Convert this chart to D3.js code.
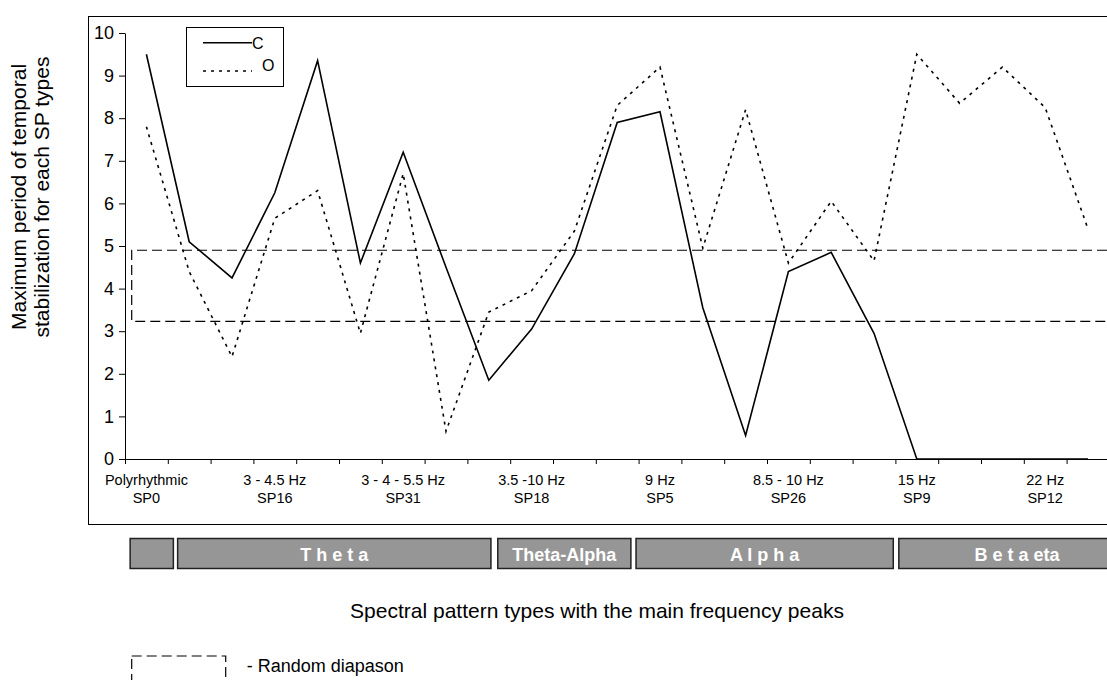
<!DOCTYPE html>
<html>
<head>
<meta charset="utf-8">
<script src="https://cdn.jsdelivr.net/npm/d3@7"></script>
<style>
  body { margin: 0; background: #fff; }
  svg { font-family: "Liberation Sans", Arial, sans-serif; }
</style>
</head>
<body>
<svg id="chart" width="1107" height="680"></svg>
<script>
"use strict";

// category labels (only every third category is labelled on the axis)
const freqLabels = ["Polyrhythmic", "", "", "3 - 4.5 Hz", "", "", "3 - 4 - 5.5 Hz", "", "",
  "3.5 -10 Hz", "", "", "9 Hz", "", "", "8.5 - 10 Hz", "", "", "15 Hz", "", "", "22 Hz", ""];
const spLabels = ["SP0", "", "", "SP16", "", "", "SP31", "", "", "SP18", "", "", "SP5", "", "",
  "SP26", "", "", "SP9", "", "", "SP12", ""];

// series values
const valuesC = [9.5, 5.1, 4.25, 6.25, 9.35, 4.6, 7.2, 4.5, 1.85, 3.05, 4.82, 7.9, 8.15, 3.55,
  0.55, 4.4, 4.85, 2.95, 0, 0, 0, 0, 0];
const valuesO = [7.8, 4.4, 2.4, 5.65, 6.3, 2.95, 6.7, 0.65, 3.45, 3.95, 5.35, 8.3, 9.2, 4.95,
  8.2, 4.6, 6.05, 4.65, 9.5, 8.35, 9.2, 8.25, 5.4];

// random diapason limits
const randomLow = 3.23;
const randomHigh = 4.9;

const yTicks = [0, 1, 2, 3, 4, 5, 6, 7, 8, 9, 10];

// rhythm bands, in category units
const bandNames = ["", "T h e t a", "Theta-Alpha", "A l p h a", "B e t a eta"];
const bandStart = [0.12, 1.23, 8.71, 11.94, 18.08];
const bandEnd = [1.13, 8.55, 11.82, 17.95, 23.6];

const svg = d3.select("#chart");

const plot = { left: 125, right: 1109.4, top: 33, bottom: 459 };

const x = d3.scaleBand()
  .domain(d3.range(valuesC.length))
  .range([plot.left, plot.right])
  .padding(0);

const xu = d3.scaleLinear()
  .domain([0, valuesC.length])
  .range([plot.left, plot.right]);

const y = d3.scaleLinear()
  .domain([0, 10])
  .range([plot.bottom, plot.top]);

const cx = i => x(i) + x.bandwidth() / 2;

// outer frame
svg.append("rect")
  .attr("x", 88.5).attr("y", 16.5)
  .attr("width", 1060).attr("height", 508)
  .attr("fill", "none").attr("stroke", "#000").attr("stroke-width", 1);

// y axis
const yAxis = svg.append("g")
  .attr("transform", `translate(${plot.left},0)`)
  .call(d3.axisLeft(y).tickValues(yTicks).tickSize(6).tickSizeOuter(0).tickPadding(5));
yAxis.select(".domain").attr("stroke", "#000");
yAxis.selectAll("text").attr("font-size", 18).attr("fill", "#000")
  .attr("font-family", "Liberation Sans, Arial, sans-serif");

// x axis line and ticks at category boundaries
const xAxis = svg.append("g")
  .attr("transform", `translate(0,${plot.bottom})`)
  .call(d3.axisBottom(xu).tickValues(d3.range(valuesC.length + 1)).tickSize(5)
    .tickSizeOuter(0).tickFormat(""));
xAxis.select(".domain").attr("stroke", "#000");

// two-line category labels
const lab = svg.append("g")
  .attr("font-size", 14.5)
  .attr("text-anchor", "middle")
  .attr("fill", "#000");
freqLabels.forEach((d, i) => {
  if (!d) return;
  lab.append("text").attr("x", cx(i)).attr("y", 485).text(d);
  lab.append("text").attr("x", cx(i)).attr("y", 503).text(spLabels[i]);
});

// random diapason box
const dash = "10,5";
svg.append("path")
  .attr("d", `M1107,${y(randomHigh)}H131.7V${y(randomLow)}H1107`)
  .attr("fill", "none").attr("stroke", "#000").attr("stroke-width", 1.2)
  .attr("stroke-dasharray", dash);

// series lines
const line = d3.line()
  .x((d, i) => cx(i))
  .y(d => y(d));

svg.append("path")
  .datum(valuesO)
  .attr("d", line)
  .attr("fill", "none").attr("stroke", "#000").attr("stroke-width", 1.6)
  .attr("stroke-dasharray", "3,5");

svg.append("path")
  .datum(valuesC)
  .attr("d", line)
  .attr("fill", "none").attr("stroke", "#000").attr("stroke-width", 1.6);

// legend
const leg = svg.append("g");
leg.append("rect")
  .attr("x", 186.5).attr("y", 27.5).attr("width", 97).attr("height", 59)
  .attr("fill", "#fff").attr("stroke", "#000").attr("stroke-width", 1);
leg.append("line")
  .attr("x1", 203).attr("x2", 252).attr("y1", 42.7).attr("y2", 42.7)
  .attr("stroke", "#000").attr("stroke-width", 1.6);
leg.append("text").attr("x", 252).attr("y", 49).attr("font-size", 16).text("C");
leg.append("line")
  .attr("x1", 203).attr("x2", 252).attr("y1", 71).attr("y2", 71)
  .attr("stroke", "#000").attr("stroke-width", 1.6).attr("stroke-dasharray", "3,5");
leg.append("text").attr("x", 262).attr("y", 71).attr("font-size", 16).text("O");

// axis titles
svg.append("text")
  .attr("transform", "translate(26,197) rotate(-90)")
  .attr("text-anchor", "middle").attr("font-size", 21)
  .text("Maximum period of temporal");
svg.append("text")
  .attr("transform", "translate(49,197) rotate(-90)")
  .attr("text-anchor", "middle").attr("font-size", 21)
  .text("stabilization for each SP types");

svg.append("text")
  .attr("x", 597).attr("y", 618)
  .attr("text-anchor", "middle").attr("font-size", 21)
  .text("Spectral pattern types with the main frequency peaks");

// rhythm band bar
const bands = svg.append("g");
bandNames.forEach((name, i) => {
  const x0 = xu(bandStart[i]), x1 = xu(bandEnd[i]);
  bands.append("rect")
    .attr("x", x0).attr("y", 538.5)
    .attr("width", x1 - x0).attr("height", 30)
    .attr("fill", "#969696").attr("stroke", "#222").attr("stroke-width", 1.5);
  bands.append("text")
    .attr("x", (x0 + x1) / 2).attr("y", 561)
    .attr("text-anchor", "middle").attr("font-size", 18).attr("font-weight", "bold")
    .attr("fill", "#fff").text(name);
});

// bottom legend for random diapason
svg.append("rect")
  .attr("x", 131.7).attr("y", 656)
  .attr("width", 94).attr("height", 40)
  .attr("fill", "none").attr("stroke", "#000").attr("stroke-width", 1.2)
  .attr("stroke-dasharray", dash);
svg.append("text")
  .attr("x", 246.7).attr("y", 672)
  .attr("font-size", 18).text("- Random diapason");
</script>
</body>
</html>
